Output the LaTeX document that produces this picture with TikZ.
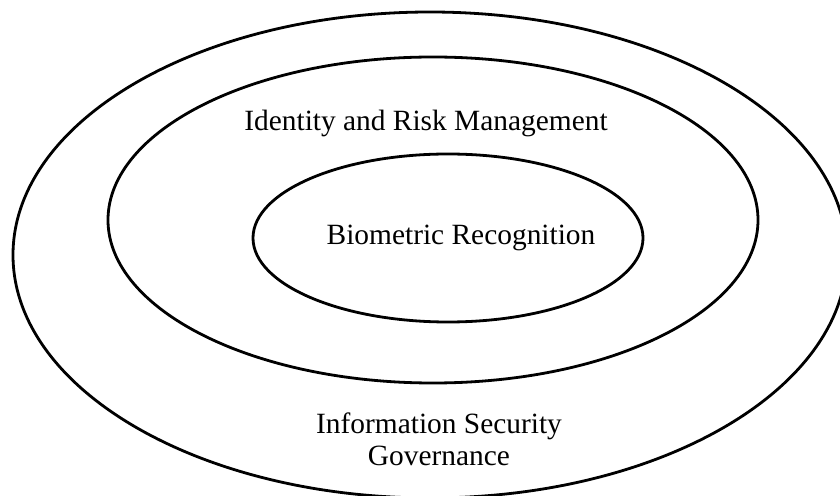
\documentclass[tikz,border=0pt]{standalone}
\usepackage{fontspec}
\setmainfont{Liberation Serif}
\usetikzlibrary{shapes.geometric}

\tikzset{
  ring/.style={ellipse, draw=black, line width=1.4pt, inner sep=0pt},
  ringtext/.style={font=\fontsize{14.7}{16}\selectfont, text=black, align=center}
}

\begin{document}
\begin{tikzpicture}[x=0.5pt, y=-0.5pt]
                            \useasboundingbox (0, 0) rectangle (840, 496);

                            \node (governance)[ring, minimum width=417pt, minimum height=243pt] at (430, 255) {};
                            \node (identity)[ring, minimum width=325pt, minimum height=163pt] at (433, 220) {};
                            \node (biometric)[ring, minimum width=195pt, minimum height=84pt] at (448, 238) {};

                            \node (identitytext)[ringtext, anchor=base] at (426, 131) {Identity and Risk Management};
                            \node (biometrictext)[ringtext, anchor=base] at (461, 245) {Biometric Recognition};
                            \node (governancetext)[ringtext, anchor=base] at (439, 465) {Information Security\\Governance};
                        \end{tikzpicture}
\end{document}
